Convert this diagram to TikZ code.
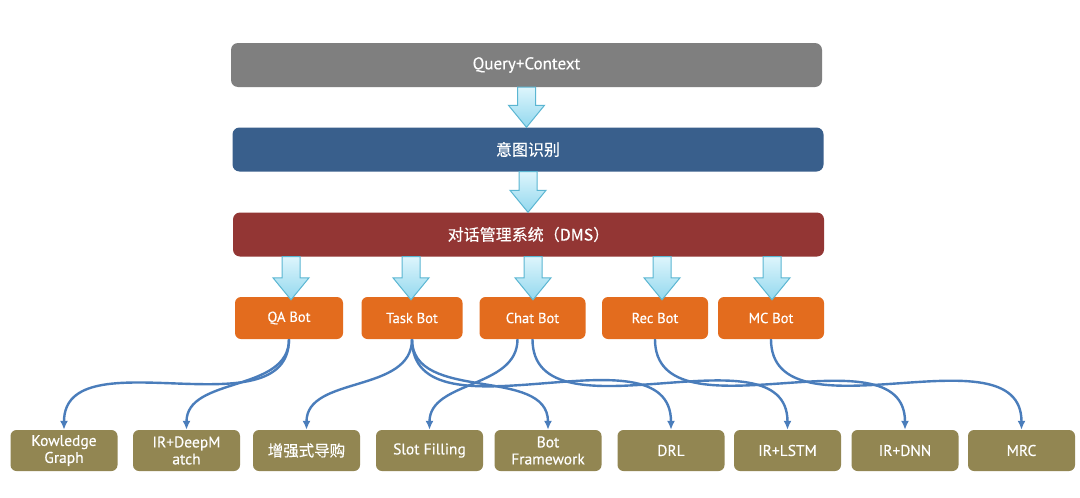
\documentclass[tikz,border=0pt]{standalone}
\usepackage{fontspec}
\setmainfont[FakeBold=0.3]{PT Sans}
\newfontfamily\cjk[FakeBold=0.3]{Noto Sans CJK SC}
\usetikzlibrary{arrows.meta,calc}

\definecolor{querygray}{HTML}{7F7F7F}
\definecolor{intentblue}{HTML}{395F8C}
\definecolor{dmsred}{HTML}{933634}
\definecolor{botorange}{HTML}{E36C1E}
\definecolor{leafolive}{HTML}{928652}
\definecolor{linkblue}{HTML}{4A7DBB}
\definecolor{arrowedge}{HTML}{5BB6D2}
\definecolor{arrowtop}{HTML}{DDF5FC}
\definecolor{arrowbottom}{HTML}{93D8EE}

\tikzset{
  bar/.style={rounded corners=7pt, minimum width=591pt, minimum height=44pt,
    inner sep=0pt, text=white, font=\fontsize{17}{19}\selectfont},
  bot/.style={rounded corners=6pt, fill=botorange, minimum width=106pt,
    minimum height=42pt, inner sep=0pt, text=white, font=\fontsize{14.5}{16}\selectfont},
  leaf/.style={rounded corners=6pt, fill=leafolive, minimum width=107pt,
    minimum height=41pt, inner sep=0pt, text=white, align=center,
    font=\fontsize{15.5}{17}\selectfont},
  link/.style={-{Latex[length=9pt,width=8pt]}, line width=2.4pt, draw=linkblue,
    out=-90, in=90},
  blockarr/.style={draw=arrowedge, line width=1pt, top color=arrowtop,
    bottom color=arrowbottom}
}

% big hollow arrow pointing down from #1 to #2
\newcommand{\blockdown}[2]{%
  \path[blockarr] let \p1=(#1), \p2=(#2) in
    (\x1-9pt,\y1) -- (\x1+9pt,\y1) -- (\x1+9pt,\y2+22pt) -- (\x1+18pt,\y2+22pt)
    -- (\x1,\y2) -- (\x1-18pt,\y2+22pt) -- (\x1-9pt,\y2+22pt) -- cycle;}

\begin{document}
\begin{tikzpicture}[x=1pt, y=-1pt]

\fill[white] (0,0) rectangle (1080,498);
\useasboundingbox (0,0) rectangle (1080,498);

% pipeline
\node[bar, fill=querygray] (query) at (526.5,65) {Query+Context};
\node[bar, fill=intentblue] (intent) at (528,149.5) {\cjk\fontsize{16}{18}\selectfont 意图识别};
\node[bar, fill=dmsred] (dms) at (528.5,234.5) {\cjk\fontsize{16}{18}\selectfont 对话管理系统（DMS）};

% bots
\node[bot, minimum width=108pt] (qa) at (289,318) {QA Bot};
\node[bot, minimum width=101pt] (task) at (412,318) {Task Bot};
\node[bot] (chat) at (532.5,318) {Chat Bot};
\node[bot] (rec) at (655,318) {Rec Bot};
\node[bot] (mc) at (771,318) {MC Bot};

% methods
\node[leaf] (kg) at (64,450.5) {Kowledge\\Graph};
\node[leaf] (irdm) at (186.5,450.5) {IR+DeepM\\atch};
\node[leaf] (guide) at (306.5,450.5) {\cjk 增强式导购};
\node[leaf] (slot) at (429.5,450.5) {Slot Filling};
\node[leaf] (frame) at (548,450.5) {Bot\\Framework};
\node[leaf] (drl) at (671,450.5) {DRL};
\node[leaf] (lstm) at (787.5,450.5) {IR+LSTM};
\node[leaf] (dnn) at (905,450.5) {IR+DNN};
\node[leaf] (mrc) at (1021.5,450.5) {MRC};

\blockdown{query.south}{intent.north}
\blockdown{intent.south}{dms.north}

\coordinate (qa tip) at ($(qa.north)+(2,3)$);
\coordinate (task tip) at ($(task.north)+(-1,3)$);
\coordinate (chat tip) at ($(chat.north)+(0.5,3)$);
\coordinate (rec tip) at ($(rec.north)+(7,3)$);
\coordinate (mc tip) at ($(mc.north)+(1,3)$);
\blockdown{dms.south -| qa tip}{qa tip}
\blockdown{dms.south -| task tip}{task tip}
\blockdown{dms.south -| chat tip}{chat tip}
\blockdown{dms.south -| rec tip}{rec tip}
\blockdown{dms.south -| mc tip}{mc tip}

\coordinate (chat left) at ($(chat.south)+(-15,0)$);

\draw[link] (qa.south) to (kg.north);
\draw[link] (qa.south) to (irdm.north);
\draw[link] (task.south) to (guide.north);
\draw[link] (task.south) to (frame.north);
\draw[link] (task.south) to (drl.north);
\draw[link] (chat left) to (slot.north);
\draw[link] (chat.south) to (lstm.north);
\draw[link] (rec.south) to (dnn.north);
\draw[link] (mc.south) to (mrc.north);

\end{tikzpicture}
\end{document}
